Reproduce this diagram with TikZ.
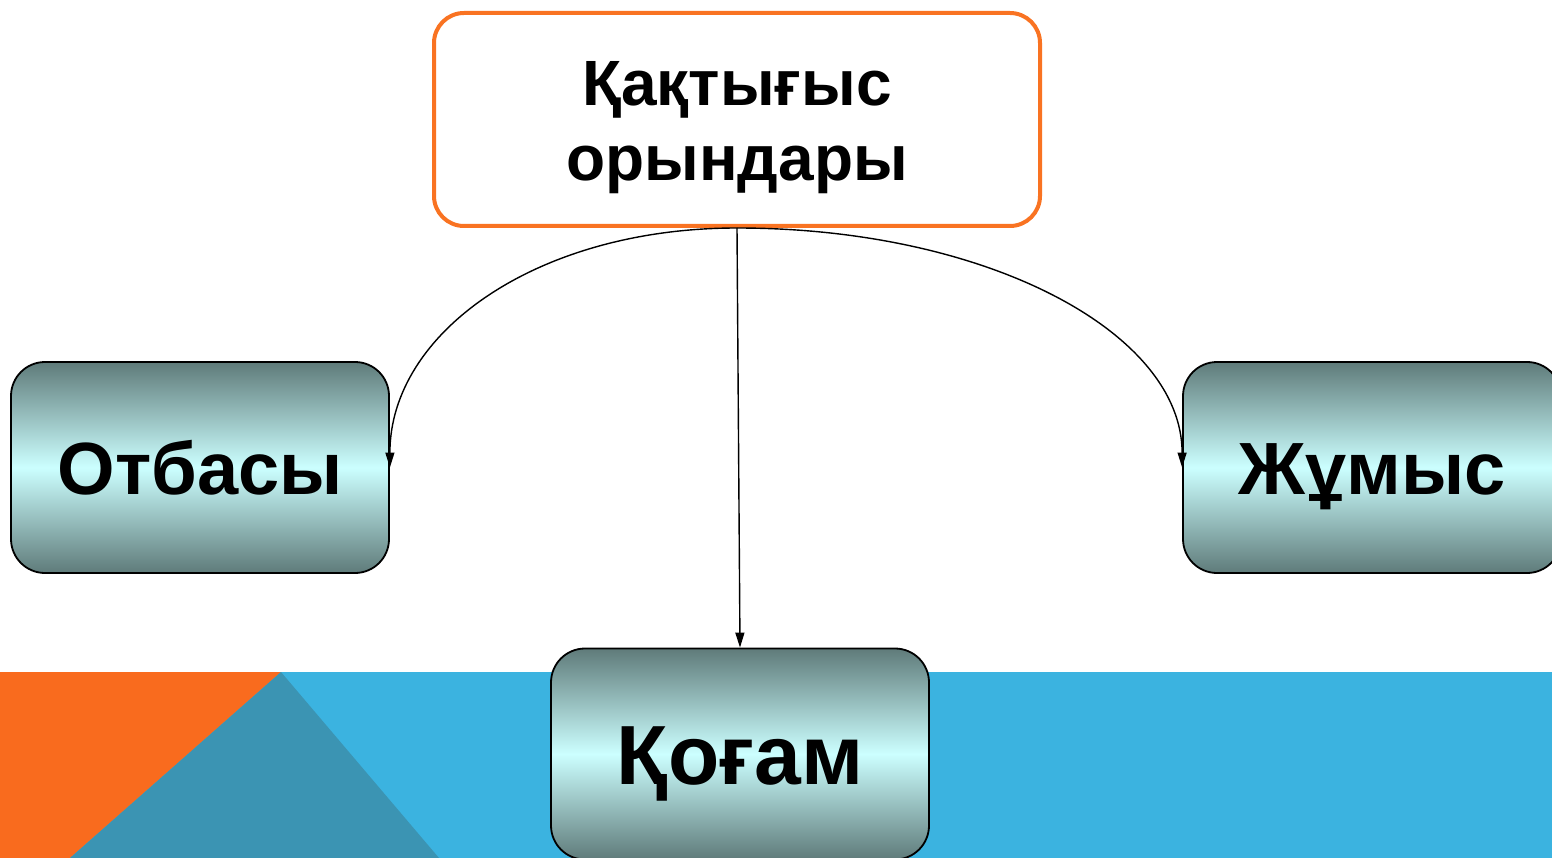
\documentclass[tikz,border=0pt]{standalone}
\usepackage{fontspec}
\setmainfont{Liberation Sans}
\usetikzlibrary{arrows.meta}
\definecolor{bandblue}{HTML}{3BB3E0}
\definecolor{bandorange}{HTML}{F96B1E}
\definecolor{bandteal}{HTML}{3B94B3}
\definecolor{boxorange}{HTML}{F97322}
\definecolor{gdark}{HTML}{5F7B7A}
\definecolor{glight}{HTML}{CCFFFF}
\tikzset{
  gbox/.style={draw=black, line width=1.8pt, rounded corners=34pt,
    top color=gdark, bottom color=gdark, middle color=glight,
    minimum width=378pt, minimum height=211pt, inner sep=0pt,
    text height=54pt, text depth=0pt,
    font=\bfseries\fontsize{74}{80}\selectfont},
  topbox/.style={draw=boxorange, line width=4pt, rounded corners=30pt, fill=white,
    minimum width=606pt, minimum height=213pt, inner sep=0pt},
  toptext/.style={inner sep=0pt, align=center,
    font=\bfseries\fontsize{64}{75}\selectfont},
  conn/.style={line width=1.4pt, -{Triangle[length=15pt,width=9pt]}}
}
\begin{document}
\begin{tikzpicture}[x=1pt,y=-1pt]
\useasboundingbox (0,0) rectangle (1552,858);
\clip (0,0) rectangle (1552,858);
% background band
\fill[bandblue] (0,672) rectangle (1552,858);
\fill[bandorange] (0,672) -- (281,672) -- (70,858) -- (0,858) -- cycle;
\fill[bandteal] (281,672) -- (439,858) -- (70,858) -- cycle;
% nodes
\node[topbox] (top) at (737,119.5) {};
\node[toptext, yshift=-8pt] (toplabel) at (top.center) {Қақтығыс\\орындары};
\node[gbox] (otb) at (200,467.5) {Отбасы};
\node[gbox] (jum) at (1372,467.5) {Жұмыс};
\node[gbox, text height=61pt, font=\bfseries\fontsize{84}{90}\selectfont] (kog) at (740,754) {Қоғам};
% connectors
\draw[conn] (top.south) .. controls +(-200,0) and +(0,-135) .. (otb.east);
\draw[conn] (top.south) .. controls +(250,0) and +(0,-135) .. (jum.west);
\draw[conn] (top.south) -- (kog.north);
\end{tikzpicture}
\end{document}
